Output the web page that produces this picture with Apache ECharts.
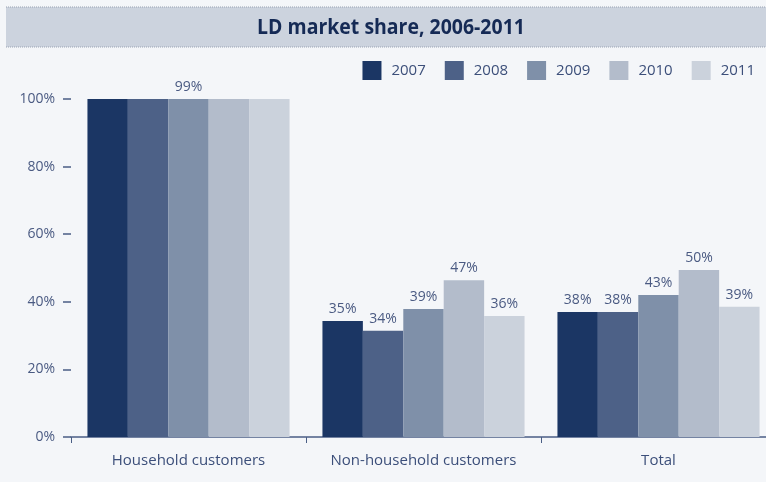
<!DOCTYPE html>
<html>
<head>
<meta charset="utf-8">
<script src="https://cdn.jsdelivr.net/npm/echarts@6/dist/echarts.min.js"></script>
<style>
html,body{margin:0;padding:0;background:#f4f6f9;}
#c{width:766px;height:482px;}
</style>
</head>
<body>
<div id="c"></div>
<script>
const categories = ['Household customers', 'Non-household customers', 'Total'];
const years = ['2007', '2008', '2009', '2010', '2011'];
const values2007 = [100, 34.3, 37.0];
const values2008 = [100, 31.4, 37.0];
const values2009 = [100, 37.9, 42.0];
const values2010 = [100, 46.4, 49.4];
const values2011 = [100, 35.8, 38.5];
const labels2007 = ['', '35%', '38%'];
const labels2008 = ['', '34%', '38%'];
const labels2009 = ['99%', '39%', '43%'];
const labels2010 = ['', '47%', '50%'];
const labels2011 = ['', '36%', '39%'];
const yTicks = [0, 20, 40, 60, 80, 100];

const colors = ['#1b3664', '#4d6187', '#7f90a9', '#b3bccb', '#cbd2dc'];
const allValues = [values2007, values2008, values2009, values2010, values2011];
const allLabels = [labels2007, labels2008, labels2009, labels2010, labels2011];
const txt = '#4a5a82';
const font = '"Open Sans", "Noto Sans", sans-serif';

const chart = echarts.init(document.getElementById('c'));
chart.setOption({
  backgroundColor: '#f4f6f9',
  animation: false,
  color: colors,
  graphic: [
    { type: 'rect', shape: { x: 6, y: 7, width: 770, height: 40 }, style: { fill: '#ccd3de' }, z: 0 },
    { type: 'line', shape: { x1: 6, y1: 7, x2: 766, y2: 7 }, style: { stroke: '#9aa3b4', lineWidth: 1, lineDash: [1, 1] } },
    { type: 'line', shape: { x1: 6, y1: 47, x2: 766, y2: 47 }, style: { stroke: '#9aa3b4', lineWidth: 1, lineDash: [1, 1] } },
    { type: 'text', x: 391, y: 28, scaleX: 0.885, style: { text: 'LD market share, 2006-2011', fill: '#152a55', align: 'center', verticalAlign: 'middle',
      font: '700 22px "Open Sans", sans-serif' } }
  ],
  legend: {
    right: 6, top: 56,
    itemWidth: 19, itemHeight: 19, itemGap: 19,
    icon: 'rect',
    textStyle: { color: '#3c4f7a', fontSize: 15, fontFamily: font, padding: [0, 0, 0, 5] },
    data: years
  },
  grid: { left: 71, top: 99, bottom: 45, width: 705, outerBoundsMode: 'none', containLabel: false },
  xAxis: {
    type: 'category', data: categories,
    axisLine: { lineStyle: { color: '#4a5e85', width: 1.5 } },
    axisTick: { show: true, length: 6, lineStyle: { color: '#4a5e85' } },
    axisLabel: { color: '#3c4f7a', fontSize: 15, fontFamily: font, margin: 16, interval: 0 }
  },
  yAxis: {
    type: 'value', min: 0, max: 100, interval: 20,
    axisLine: { show: false },
    axisTick: { show: true, length: 8, lineStyle: { color: '#4a5e85', width: 1.5 } },
    splitLine: { show: false },
    axisLabel: { color: txt, fontSize: 14, fontFamily: font, margin: 16,
      formatter: v => yTicks.includes(v) ? v + '%' : '' }
  },
  series: years.map((y, i) => ({
    name: y, type: 'bar', barGap: '0%', barCategoryGap: '14%',
    data: allValues[i],
    label: { show: true, position: 'top', distance: 5, color: txt, fontSize: 14, fontFamily: font,
      formatter: p => allLabels[i][p.dataIndex] }
  }))
});
</script>
</body>
</html>
